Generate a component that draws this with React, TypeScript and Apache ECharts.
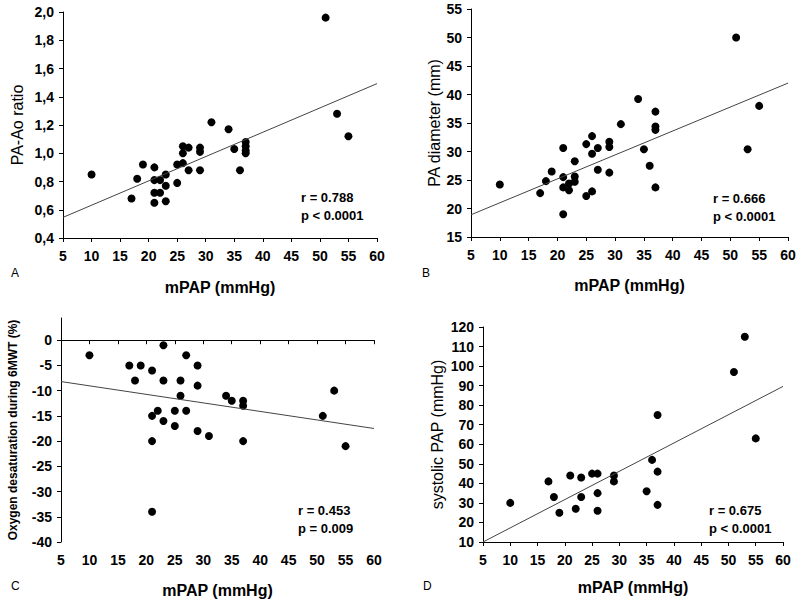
import React, { useEffect, useRef } from "react";
import * as echarts from "echarts";

// Panel A: PA-Ao ratio vs mPAP
const mpapA = [10, 17, 18, 19, 21, 21, 21, 21, 22, 22, 23, 23, 23, 25, 25, 26, 26, 26, 27, 27, 29, 29, 29, 31, 34, 35, 36, 37, 37, 37, 37, 51, 53, 55];
const ratioA = [0.85, 0.68, 0.82, 0.92, 0.9, 0.81, 0.72, 0.65, 0.81, 0.72, 0.85, 0.77, 0.66, 0.92, 0.79, 1.05, 1.0, 0.93, 1.04, 0.88, 1.04, 1.01, 0.88, 1.22, 1.17, 1.03, 0.88, 1.08, 1.05, 1.02, 1.0, 1.96, 1.28, 1.12];
// Panel B: PA diameter vs mPAP
const mpapB = [10, 17, 18, 19, 21, 21, 21, 21, 22, 22, 23, 23, 23, 25, 25, 26, 26, 26, 27, 27, 29, 29, 29, 31, 34, 35, 36, 37, 37, 37, 37, 51, 53, 55];
const diamB = [24.2, 22.7, 24.8, 26.5, 30.6, 25.5, 23.7, 19, 24.4, 23.2, 28.3, 25.6, 24.7, 31.3, 22.2, 32.7, 29.6, 23, 30.6, 26.8, 31.7, 30.8, 26.3, 34.8, 39.2, 30.4, 27.5, 37, 34.4, 33.8, 23.7, 50, 30.4, 38];
// Panel C: oxygen desaturation vs mPAP
const mpapC = [10, 17, 18, 19, 21, 21, 21, 21, 22, 23, 23, 23, 25, 25, 26, 26, 27, 27, 29, 29, 29, 31, 34, 35, 37, 37, 37, 51, 53, 55];
const desatC = [-3, -5, -8, -5, -6, -15, -20, -34, -14, -1, -8, -16, -14, -17, -8, -11, -3, -14, -5, -9, -18, -19, -11, -12, -12, -13, -20, -15, -10, -21];
// Panel D: systolic PAP vs mPAP
const mpapD = [10, 17, 18, 19, 21, 22, 23, 23, 25, 26, 26, 26, 29, 29, 35, 36, 37, 37, 37, 51, 53, 55];
const spapD = [30, 41, 33, 25, 44, 27, 43, 33, 45, 45, 35, 26, 44, 41, 36, 52, 75, 46, 29, 97, 115, 63];

// Regression line endpoints (x = 5 and x = 60)
const fitX = [5, 60];
const fitA = [0.546, 1.493];
const fitB = [18.9, 42.0];
const fitC = [-8.2, -17.5];
const fitD = [10, 89.6];

const ticksC = [-40, -35, -30, -25, -20, -15, -10, -5, 0];

const statsA = ["r = 0.788", "p < 0.0001"];
const statsB = ["r = 0.666", "p < 0.0001"];
const statsC = ["r = 0.453", "p = 0.009"];
const statsD = ["r = 0.675", "p < 0.0001"];

const FONT = "Liberation Sans";

const zip = (xs: number[], ys: number[]) => xs.map((x, i) => [x, ys[i]]);

export default function App() {
  const ref = useRef<HTMLDivElement>(null);
  useEffect(() => {
    if (!ref.current) return;
    const chart = echarts.init(ref.current, null, { renderer: "svg" });
    const labelStyle = (fmt: (v: number) => string, margin: number) => ({
      show: true,
      color: "#000",
      fontWeight: "bold",
      fontSize: 14,
      fontFamily: FONT,
      margin,
      formatter: (v: number) => fmt(v),
    });
    const plain = (v: number) => String(v);
    const comma = (v: number) => v.toFixed(1).replace(".", ",");
    const axisCommon = {
      axisLine: { show: true, lineStyle: { color: "#000", width: 1 } },
      axisTick: { show: true, inside: false, length: 4, lineStyle: { color: "#000" } },
      splitLine: { show: false },
    };
    const xAxis = (gridIndex: number, gap: number) => ({
      ...axisCommon,
      type: "value",
      gridIndex,
      min: 5,
      max: 60,
      interval: 5,
      name: "mPAP (mmHg)",
      nameLocation: "middle",
      nameGap: gap,
      nameTextStyle: { color: "#000", fontWeight: "bold", fontSize: 16, fontFamily: FONT },
      axisLabel: labelStyle(plain, 11),
    });
    const title = (size: number, bold: boolean) => ({
      color: "#000",
      fontWeight: bold ? "bold" : "normal",
      fontSize: size,
      fontFamily: FONT,
    });
    const scatter = (idx: number, xs: number[], ys: number[]) => ({
      type: "scatter",
      xAxisIndex: idx,
      yAxisIndex: idx,
      data: zip(xs, ys),
      symbol: "circle",
      symbolSize: 8,
      itemStyle: { color: "#000", opacity: 1 },
      silent: true,
    });
    const fit = (idx: number, ys: number[]) => ({
      type: "line",
      xAxisIndex: idx,
      yAxisIndex: idx,
      data: zip(fitX, ys),
      symbol: "none",
      lineStyle: { color: "#444", width: 1 },
      silent: true,
    });
    const statText = (x: number, y: number, lines: string[]) =>
      lines.map((t, i) => ({
        type: "text",
        left: x,
        top: y + i * 18,
        style: { text: t, fill: "#000", fontWeight: "bold", fontSize: 13, fontFamily: FONT },
      }));
    const letter = (x: number, y: number, t: string) => ({
      type: "text",
      left: x,
      top: y,
      style: { text: t, fill: "#000", fontSize: 12, fontFamily: FONT },
    });

    chart.setOption({
      animation: false,
      backgroundColor: "#fff",
      grid: [
        { left: 63, top: 12, width: 314, height: 226 },
        { left: 471, top: 9, width: 317, height: 228 },
        { left: 61, top: 318, width: 313, height: 224 },
        { left: 483, top: 327, width: 300, height: 215 },
      ],
      xAxis: [xAxis(0, 41), xAxis(1, 40), xAxis(2, 40), xAxis(3, 37)],
      yAxis: [
        {
          ...axisCommon,
          type: "value",
          gridIndex: 0,
          min: 0.4,
          max: 2.0,
          interval: 0.2,
          name: "PA-Ao ratio",
          nameLocation: "middle",
          nameGap: 38,
          nameTextStyle: title(16, false),
          axisLabel: labelStyle(comma, 9),
        },
        {
          ...axisCommon,
          type: "value",
          gridIndex: 1,
          min: 15,
          max: 55,
          interval: 5,
          name: "PA diameter (mm)",
          nameLocation: "middle",
          nameGap: 26,
          nameTextStyle: title(16, false),
          axisLabel: labelStyle(plain, 9),
        },
        {
          ...axisCommon,
          type: "value",
          gridIndex: 2,
          min: -40,
          max: 4.4,
          name: "Oxygen desaturation during 6MWT (%)",
          nameLocation: "middle",
          nameGap: 42,
          nameTextStyle: title(12, true),
          axisTick: { ...axisCommon.axisTick, customValues: ticksC },
          axisLabel: { ...labelStyle(plain, 9), customValues: ticksC },
        },
        {
          ...axisCommon,
          type: "value",
          gridIndex: 3,
          min: 10,
          max: 120,
          interval: 10,
          name: "systolic PAP (mmHg)",
          nameLocation: "middle",
          nameGap: 38,
          nameTextStyle: title(16, false),
          axisLabel: labelStyle(plain, 9),
        },
      ],
      series: [
        fit(0, fitA),
        scatter(0, mpapA, ratioA),
        fit(1, fitB),
        scatter(1, mpapB, diamB),
        fit(2, fitC),
        scatter(2, mpapC, desatC),
        fit(3, fitD),
        scatter(3, mpapD, spapD),
      ],
      graphic: [
        ...statText(301, 191, statsA),
        ...statText(713, 192, statsB),
        ...statText(298, 504, statsC),
        ...statText(709, 504, statsD),
        letter(11, 267, "A"),
        letter(422, 267, "B"),
        letter(11, 580, "C"),
        letter(423, 580, "D"),
      ],
    });
    return () => chart.dispose();
  }, []);
  return (
    <div
      ref={ref}
      style={{ position: "fixed", left: 0, top: 0, width: 800, height: 599, background: "#fff" }}
    />
  );
}
